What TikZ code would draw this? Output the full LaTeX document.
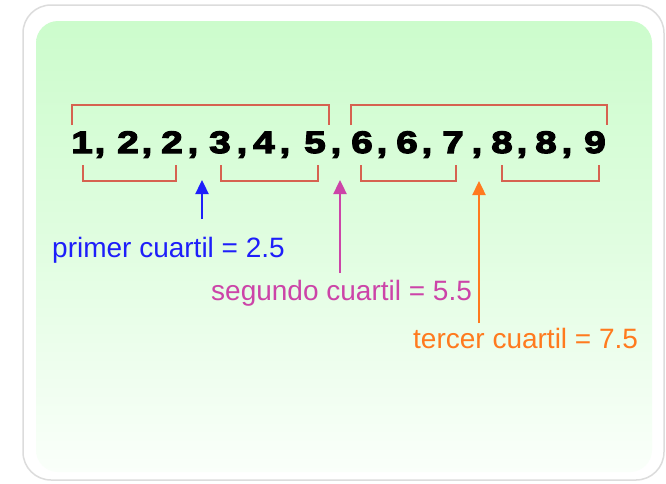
\documentclass[tikz,border=0pt]{standalone}
\usepackage{fontspec}
\setmainfont{Liberation Sans}
\newfontfamily\digitfont{Liberation Sans}[UprightFont={* Bold},FakeBold=4,FakeStretch=1.25]
\usetikzlibrary{arrows.meta}
\definecolor{frameline}{RGB}{220,220,220}
\definecolor{bgtop}{RGB}{204,252,204}
\definecolor{bgbot}{RGB}{250,255,250}
\definecolor{brk}{RGB}{214,98,80}
\definecolor{qone}{RGB}{30,30,250}
\definecolor{qtwo}{RGB}{204,68,168}
\definecolor{qthree}{RGB}{255,122,30}
\tikzset{
  digit/.style={font=\digitfont\fontsize{31}{31}\selectfont,inner sep=0pt,anchor=base},
  bracketline/.style={draw=brk,line width=1.6pt},
  qtext/.style={font=\fontsize{28}{28}\selectfont,inner sep=0pt,anchor=base west},
  qarrow/.style={line width=2.4pt,-{Triangle[width=13pt,length=14pt]}},
}
\begin{document}
\begin{tikzpicture}[x=1pt,y=-1pt]
\useasboundingbox (0,0) rectangle (666,483);
\fill[white] (0,0) rectangle (666,483);
% card
\draw[frameline,line width=1.5pt,rounded corners=28pt] (23,5) rectangle (664,480);
\shade[rounded corners=22pt,top color=bgtop,bottom color=bgbot,middle color=bgtop!55!bgbot] (36,21) rectangle (652,472);
% data values
\foreach \x/\d [count=\i] in {82/1,128/2,172/2,220/3,264/4,315/5,362/6,407/6,453/7,502/8,546/8,595/9}
  \node[digit] (d\i) at (\x,153) {\d};
\foreach \x [count=\i] in {100,147,193,242,285,336,382,427,477,522,567}
  \node[digit] (c\i) at (\x,153) {,};
% halves
\draw[bracketline] (72,125) -- (72,105) -- (329,105) -- (329,125);
\draw[bracketline] (351,125) -- (351,105) -- (607,105) -- (607,125);
% quarters
\draw[bracketline] (83,165) -- (83,181) -- (176,181) -- (176,165);
\draw[bracketline] (221,165) -- (221,181) -- (318,181) -- (318,165);
\draw[bracketline] (361,165) -- (361,181) -- (456,181) -- (456,165);
\draw[bracketline] (502,165) -- (502,181) -- (599,181) -- (599,165);
% quartile labels
\node[qtext,text=qone] (q1) at (52,257) {primer cuartil = 2.5};
\node[qtext,text=qtwo] (q2) at (211,300) {segundo cuartil = 5.5};
\node[qtext,text=qthree] (q3) at (413,348) {tercer cuartil = 7.5};
% arrows
\coordinate (t1) at (202,219);
\coordinate (h1) at (202,180);
\coordinate (t2) at (340,273);
\coordinate (h2) at (340,180);
\coordinate (t3) at (479,323);
\coordinate (h3) at (479,181);
\draw[qarrow,qone] (t1) -- (h1);
\draw[qarrow,qtwo] (t2) -- (h2);
\draw[qarrow,qthree] (t3) -- (h3);
\end{tikzpicture}
\end{document}
